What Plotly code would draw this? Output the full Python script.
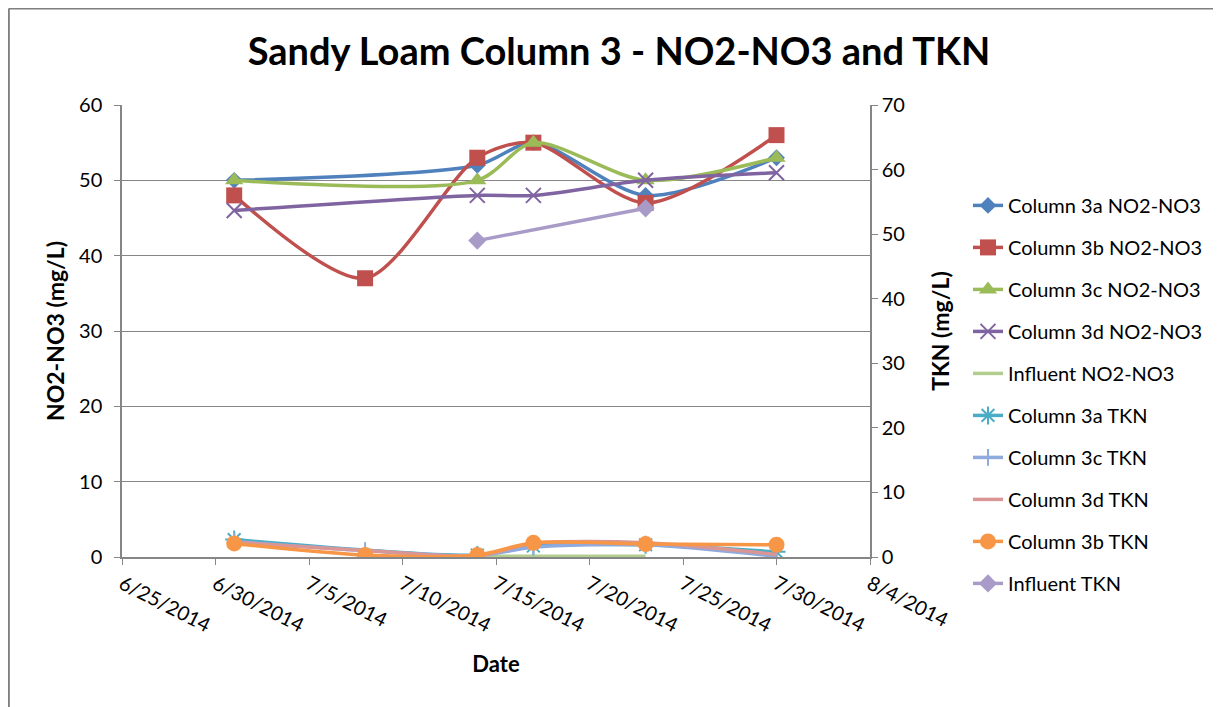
import plotly.graph_objects as go

dates = ["2014-07-01", "2014-07-08", "2014-07-14", "2014-07-17", "2014-07-23", "2014-07-30"]

# NO2-NO3 (mg/L), primary axis
col3a_no = [50, None, 52, 55, 48, 53]
col3b_no = [48, 37, 53, 55, 47, 56]
col3c_no = [50, None, 50, 55, 50, 53]
col3d_no = [46, None, 48, 48, 50, 51]
infl_no = [None, None, 0.1, 0.1, 0.1, None]

# TKN (mg/L), secondary axis
col3a_tkn = [2.7, None, 0.3, 1.7, 1.9, 0.8]
col3c_tkn = [2.4, 1.0, 0.2, 1.5, 1.9, 0.1]
col3d_tkn = [2.3, 1.0, 0.2, 2.1, 2.2, 0.4]
col3b_tkn = [2.1, 0.3, 0.3, 2.2, 2.0, 1.9]
infl_tkn = [None, None, 49, None, 54, None]

FONT = "Lato"

series = [
    ("Column 3a NO2-NO3", col3a_no, "y", "#4F81BD", dict(symbol="diamond", size=13)),
    ("Column 3b NO2-NO3", col3b_no, "y", "#C0504D", dict(symbol="square", size=16)),
    ("Column 3c NO2-NO3", col3c_no, "y", "#9BBB59", dict(symbol="triangle-up", size=16)),
    ("Column 3d NO2-NO3", col3d_no, "y", "#8064A2",
     dict(symbol="x-thin-open", size=15, line=dict(width=2, color="#8064A2"))),
    ("Influent NO2-NO3", infl_no, "y", "#B3CD8F", None),
    ("Column 3a TKN", col3a_tkn, "y2", "#4BACC6",
     dict(symbol="asterisk-open", size=15, line=dict(width=2, color="#4BACC6"))),
    ("Column 3c TKN", col3c_tkn, "y2", "#8FAADC",
     dict(symbol="line-ns-open", size=12, line=dict(width=2, color="#8FAADC"))),
    ("Column 3d TKN", col3d_tkn, "y2", "#D99694", None),
    ("Column 3b TKN", col3b_tkn, "y2", "#F79646", dict(symbol="circle", size=16)),
    ("Influent TKN", infl_tkn, "y2", "#A99BC8", dict(symbol="diamond", size=14)),
]

fig = go.Figure()
for i, (name, vals, yax, color, marker) in enumerate(series):
    if marker is not None:
        m = dict(color=color)
        m.update(marker)
        mode = "lines+markers"
    else:
        m = None
        mode = "lines"
    fig.add_trace(go.Scatter(
        x=dates, y=vals, name=name, yaxis=yax, mode=mode,
        line=dict(color=color, width=3.5, shape="spline", smoothing=0.8),
        marker=m, connectgaps=True, legendgroup="g%d" % i,
    ))

# page body has an 8px margin, so the figure is a little smaller than the window
grey = "#868686"
fig.update_layout(
    width=1213, height=699,
    margin=dict(l=114, r=351, t=97, b=150),
    paper_bgcolor="white", plot_bgcolor="white",
    font=dict(family=FONT, color="#000000", size=20),
    title=dict(text="<b>Sandy Loam Column 3 - NO2-NO3 and TKN</b>",
               x=0.5037, xanchor="center", y=0.938, yanchor="middle",
               font=dict(size=38, family=FONT, color="#000000")),
    xaxis=dict(
        type="date", range=["2014-06-25", "2014-08-04"], automargin=False,
        tick0="2014-06-25", dtick=5 * 86400000, tickformat="%-m/%-d/%Y",
        tickangle=27, showgrid=False, showline=True, linecolor=grey, linewidth=1.5,
        ticks="outside", ticklen=6, tickcolor=grey,
        tickfont=dict(size=20, color="#000000"),
        title=dict(text="<b>Date</b>", font=dict(size=22), standoff=21),
    ),
    yaxis=dict(
        range=[0, 60], dtick=10, showgrid=True, gridcolor=grey, gridwidth=1,
        showline=True, linecolor=grey, linewidth=1.5, zeroline=False, automargin=False,
        ticks="outside", ticklen=6, tickcolor=grey, ticklabelstandoff=8,
        tickfont=dict(size=20, color="#000000"),
        title=dict(text="<b>NO2-NO3 (mg/L)</b>", font=dict(size=23), standoff=8),
    ),
    yaxis2=dict(
        range=[0, 70], dtick=10, overlaying="y", side="right", showgrid=False,
        showline=True, linecolor=grey, linewidth=1.5, zeroline=False, automargin=False,
        ticks="outside", ticklen=6, tickcolor=grey,
        tickfont=dict(size=20, color="#000000"),
        title=dict(text="<b>TKN (mg/L)</b>", font=dict(size=23), standoff=29),
    ),
    legend=dict(x=1.131, y=0.821, xanchor="left", yanchor="top",
                font=dict(size=20, color="#000000"), tracegroupgap=13,
                bgcolor="rgba(0,0,0,0)"),
    shapes=[
        dict(type="line", xref="paper", yref="paper", x0=-0.1513, x1=-0.1513,
             y0=1.2135, y1=-0.4, line=dict(color="#7F7F7F", width=2)),
        dict(type="line", xref="paper", yref="paper", x0=-0.1513, x1=1.5,
             y0=1.2135, y1=1.2135, line=dict(color="#7F7F7F", width=2)),
    ],
)

fig.write_html("out.html")
